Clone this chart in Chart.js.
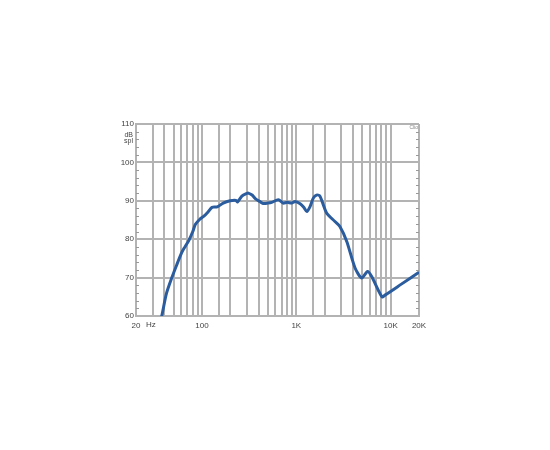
<!DOCTYPE html>
<html>
<head>
<meta charset="utf-8">
<script src="https://cdn.jsdelivr.net/npm/chart.js@4"></script>
<style>
  body { margin: 0; background: #fff; }
  #wrap { width: 550px; height: 450px; }
</style>
</head>
<body>
<div id="wrap"><canvas id="fr"></canvas></div>
<script>
// frequency response, values
const freqs = [35, 37.5, 42, 48, 54, 61, 66, 73, 80, 85, 95, 105, 117, 128, 145, 168, 199, 230, 238, 265, 298, 310, 340, 370, 412, 445, 500, 550, 646, 725, 800, 896, 970, 1100, 1200, 1292, 1400, 1516, 1640, 1775, 1900, 2100, 2570, 2900, 3430, 4200, 4940, 5700, 6300, 8100, 8800, 13000, 20000];
const spl = [57.5, 60, 65.8, 70, 73.3, 76.5, 78, 79.8, 82, 83.8, 85.2, 86, 87.2, 88.3, 88.4, 89.4, 90, 90.1, 89.7, 91.2, 91.9, 92, 91.5, 90.5, 89.8, 89.3, 89.4, 89.6, 90.3, 89.4, 89.6, 89.4, 89.8, 89.2, 88.3, 87.2, 88.5, 90.7, 91.5, 91.3, 89.5, 86.8, 84.6, 83.3, 79.4, 72.5, 69.9, 71.6, 70.3, 65, 65.5, 68.3, 71.4];

// grid lines and labels
const xGrid = [20, 30, 40, 50, 60, 70, 80, 90, 100, 150, 200, 300, 400, 500, 600, 700, 800, 900, 1000, 1500, 2000, 3000, 4000, 5000, 6000, 7000, 8000, 9000, 10000, 20000];
const xLabels = { 20: '20', 100: '100', 1000: '1K', 10000: '10K', 20000: '20K' };
const yTicks = [60, 70, 80, 90, 100, 110];

const gridColor = '#b3b3b3';
const font = { family: 'Liberation Sans, Arial, sans-serif', size: 8 };

// extra text + small ticks on the frame
const extras = {
    id: 'extras',
    afterDraw(chart) {
        const ctx = chart.ctx;
        const a = chart.chartArea;
        const y = chart.scales.y;
        ctx.save();
        ctx.strokeStyle = '#999';
        ctx.lineWidth = 1;
        for (let v = 62; v < 110; v += 2) {
            if (v % 10 === 0) continue;
            const py = Math.round(y.getPixelForValue(v)) + 0.5;
            ctx.beginPath();
            ctx.moveTo(a.left, py); ctx.lineTo(a.left + 3, py);
            ctx.moveTo(a.right - 3, py); ctx.lineTo(a.right, py);
            ctx.stroke();
        }
        ctx.fillStyle = '#444';
        ctx.font = '7px Liberation Sans, Arial, sans-serif';
        ctx.textAlign = 'right';
        ctx.textBaseline = 'middle';
        ctx.fillText('dB', a.left - 3, 135);
        ctx.fillText('spl', a.left - 3, 141);
        ctx.font = '8px Liberation Sans, Arial, sans-serif';
        ctx.textAlign = 'left';
        ctx.fillText('Hz', a.left + 10, a.bottom + 9);
        ctx.fillStyle = '#888';
        ctx.font = '5px Liberation Sans, Arial, sans-serif';
        ctx.textAlign = 'right';
        ctx.fillText('Clio', a.right - 1, a.top + 4);
        ctx.restore();
    }
};

new Chart(document.getElementById('fr'), {
    type: 'line',
    data: {
        datasets: [{
            data: freqs.map((f, i) => ({ x: f, y: spl[i] })),
            borderColor: '#2b5c9e',
            borderWidth: 3,
            pointRadius: 0,
            tension: 0.25,
            fill: false
        }]
    },
    options: {
        responsive: true,
        maintainAspectRatio: false,
        animation: false,
        layout: { padding: { left: 0, top: 124, right: 131, bottom: 114 } },
        plugins: { legend: { display: false }, tooltip: { enabled: false } },
        scales: {
            x: {
                type: 'logarithmic',
                min: 20,
                max: 20000,
                afterBuildTicks: s => { s.ticks = xGrid.map(v => ({ value: v })); },
                afterFit: s => { s.height = 20; },
                ticks: {
                    autoSkip: false,
                    maxRotation: 0,
                    padding: 5,
                    color: '#444',
                    font: font,
                    callback: v => xLabels[v] || ''
                },
                grid: { color: gridColor, lineWidth: 2, drawTicks: false },
                border: { color: gridColor, width: 2 }
            },
            y: {
                min: 60,
                max: 110,
                afterBuildTicks: s => { s.ticks = yTicks.map(v => ({ value: v })); },
                afterFit: s => { s.width = 136; },
                ticks: { padding: 2, color: '#444', font: font },
                grid: { color: gridColor, lineWidth: 2, drawTicks: false },
                border: { color: gridColor, width: 2 }
            }
        }
    },
    plugins: [extras]
});
</script>
</body>
</html>
